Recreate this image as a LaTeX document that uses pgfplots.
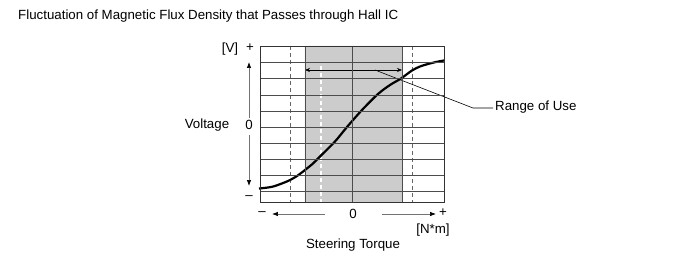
\documentclass[border=0pt]{standalone}
\usepackage{pgfplots}
\pgfplotsset{compat=1.18}
\usetikzlibrary{arrows.meta}
\usepackage{fontspec}
\setmainfont{Liberation Sans}
\begin{document}
\begin{tikzpicture}
\fontsize{13.3}{15}\selectfont
\path[use as bounding box] (0,0) rectangle (691pt,-272pt);
\begin{axis}[
  at={(260pt,-46pt)}, anchor=north west,
  scale only axis, width=184pt, height=156pt,
  xmin=260, xmax=444, ymin=46, ymax=202, y dir=reverse,
  clip=false, axis on top,
  xtick={305,352,402}, ytick={62,78,95,111,127,143,159,175,191},
  xticklabels={}, yticklabels={}, major tick length=0pt,
  grid=major, grid style={black!70, line width=0.5pt},
  axis line style={black!80, line width=0.6pt},
]
% shaded range of use
\addplot[draw=none, fill=gray!40] coordinates {(305,46) (402,46) (402,202) (305,202) (305,46)};
% dashed limit lines
\addplot[black!60, line width=0.8pt, dash pattern=on 4pt off 3pt] coordinates {(290,46) (290,202)};
\addplot[black!60, line width=0.8pt, dash pattern=on 4pt off 3pt] coordinates {(412,46) (412,202)};
\addplot[white, line width=1.4pt, dash pattern=on 4pt off 3pt] coordinates {(321,66) (321,202)};
% characteristic curve
\addplot[black, line width=2.2pt, smooth, tension=0.5] coordinates {
 (259,188.5) (268,187.5) (275,186) (288,181) (297,176) (305,170) (313,163.5)
 (320,156.5) (335,141.5) (347,127) (362,110) (378,94) (390,85) (401,78.5)
 (412,70.5) (420,66.5) (428,64) (436,62) (444,60.5)};
% range of use arrow and leader
\draw[black, line width=0.6pt, {Stealth[length=5pt,width=4pt]}-{Stealth[length=5pt,width=4pt]}] (axis cs:305,70) -- (axis cs:402,70);
\draw[black, line width=0.6pt] (axis cs:375,70) -- (axis cs:473,108) -- (axis cs:493,108);
\node[anchor=west, inner sep=0pt] at (axis cs:495,107) {Range of Use};
% title
\node[anchor=west, inner sep=0pt] at (axis cs:18,16) {Fluctuation of Magnetic Flux Density that Passes through Hall IC};
% vertical axis annotations
\node[inner sep=0pt] at (axis cs:230,49) {[V]};
\node[inner sep=0pt] at (axis cs:250,48) {+};
\node[inner sep=0pt] at (axis cs:207,125) {Voltage};
\node[inner sep=0pt] at (axis cs:249,125) {0};
\node[inner sep=0pt] at (axis cs:249,198) {–};
\draw[black!55, line width=0.7pt, -{Latex[length=6pt,width=4.5pt,color=black]}] (axis cs:249,118) -- (axis cs:249,62);
\draw[black!55, line width=0.7pt, -{Latex[length=6pt,width=4.5pt,color=black]}] (axis cs:249,135) -- (axis cs:249,186);
% horizontal axis annotations
\node[inner sep=0pt] at (axis cs:262,214) {–};
\node[inner sep=0pt] at (axis cs:353,214) {0};
\node[inner sep=0pt] at (axis cs:443,213) {+};
\draw[black!55, line width=0.7pt, -{Latex[length=6pt,width=4.5pt,color=black]}] (axis cs:325,214) -- (axis cs:272,214);
\draw[black!55, line width=0.7pt, -{Latex[length=6pt,width=4.5pt,color=black]}] (axis cs:382,214) -- (axis cs:436,214);
\node[inner sep=0pt] at (axis cs:433,230) {[N*m]};
\node[inner sep=0pt] at (axis cs:353,245) {Steering Torque};
\end{axis}
\end{tikzpicture}
\end{document}
